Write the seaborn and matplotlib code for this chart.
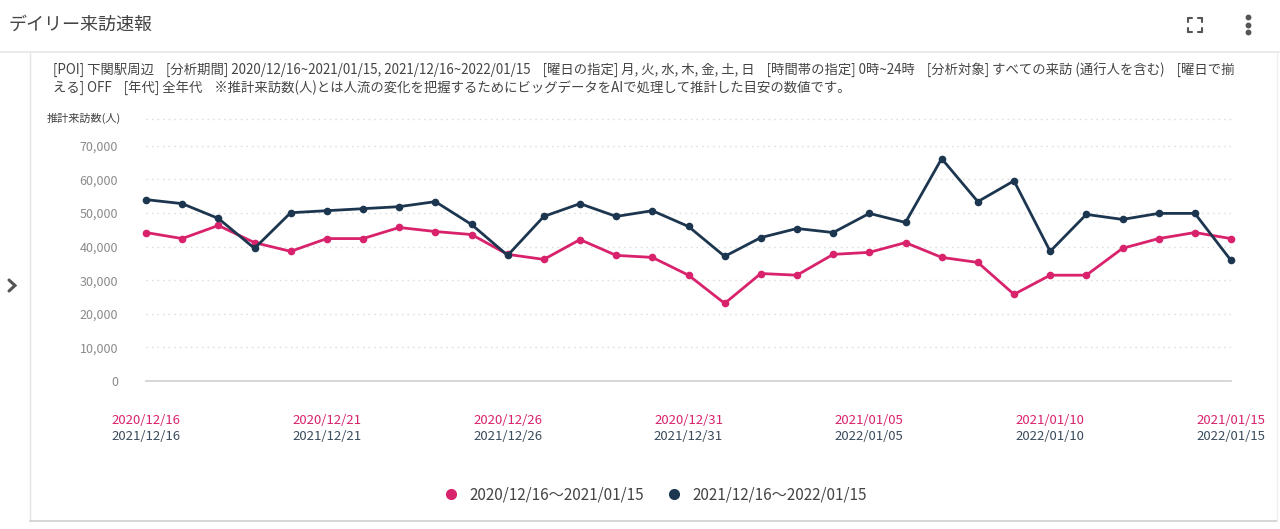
"""
Daily visit report - two period comparison line chart
"""

import matplotlib
matplotlib.use('Agg')
import matplotlib.pyplot as plt
from matplotlib.lines import Line2D
from matplotlib.transforms import blended_transform_factory
import pandas as pd
import seaborn as sns

# ---- data -------------------------------------------------------------
labels_2020 = ['2020/12/16', '2020/12/21', '2020/12/26', '2020/12/31',
               '2021/01/05', '2021/01/10', '2021/01/15']
labels_2021 = ['2021/12/16', '2021/12/21', '2021/12/26', '2021/12/31',
               '2022/01/05', '2022/01/10', '2022/01/15']
series_names = ['2020/12/16～2021/01/15', '2021/12/16～2022/01/15']

visits_2020 = [44200, 42400, 46300, 41200, 38600, 42400, 42400, 45700, 44500, 43600,
               37700, 36200, 42100, 37400, 36800, 31500, 23100, 32000, 31500, 37700,
               38300, 41200, 36800, 35300, 25800, 31500, 31500, 39500, 42400, 44200,
               42400]
visits_2021 = [54000, 52800, 48400, 39500, 50100, 50700, 51300, 51900, 53400, 46600,
               37400, 49000, 52800, 49000, 50700, 46000, 37100, 42700, 45400, 44200,
               49900, 47200, 66200, 53400, 59600, 38600, 49600, 48100, 49900, 49900,
               35900]
y_ticks = [0, 10000, 20000, 30000, 40000, 50000, 60000, 70000]

PINK = '#d8226c'
NAVY = '#1d3650'
W, H = 1280, 529


def fx(px):
    return px / W


def fy(py):
    return 1 - py / H


sns.set_theme(style='white')
plt.rcParams['font.family'] = ['Noto Sans CJK JP', 'DejaVu Sans']

fig = plt.figure(figsize=(12.8, 5.29), dpi=100)
fig.patch.set_facecolor('white')

# ---- card chrome ------------------------------------------------------
fig.text(fx(8), fy(25), 'デイリー来訪速報', fontsize=13, color='#444444', va='center')
fig.add_artist(Line2D([0, 1], [fy(52), fy(52)], color='#e6e6e6', lw=1.2))
fig.add_artist(Line2D([fx(30), fx(30)], [fy(53), fy(521)], color='#e3e3e3', lw=1))
fig.add_artist(Line2D([fx(30), fx(1277)], [fy(521), fy(521)], color='#cfcfcf', lw=1.2))
fig.add_artist(Line2D([fx(1277), fx(1277)], [fy(53), fy(521)], color='#eeeeee', lw=1))
# collapse chevron
fig.add_artist(Line2D([fx(9), fx(15), fx(9)], [fy(280), fy(285.5), fy(291)],
                      color='#555555', lw=2.2, solid_joinstyle='miter'))

# fullscreen icon: four corner brackets
cx, cy, s, a = 1195, 25, 7, 4
for dx in (-1, 1):
    for dy in (-1, 1):
        x0, y0 = cx + dx * s, cy + dy * s
        fig.add_artist(Line2D([fx(x0), fx(x0 - dx * a)], [fy(y0), fy(y0)], color='#555555', lw=1.5))
        fig.add_artist(Line2D([fx(x0), fx(x0)], [fy(y0), fy(y0 - dy * a)], color='#555555', lw=1.5))
# more (kebab) icon
for yy in (17, 24.5, 32):
    fig.add_artist(Line2D([fx(1248)], [fy(yy)], marker='o', markersize=3.2, color='#555555', lw=0))

info_1 = ('[POI] 下関駅周辺    [分析期間] 2020/12/16~2021/01/15, 2021/12/16~2022/01/15    '
          '[曜日の指定] 月, 火, 水, 木, 金, 土, 日    [時間帯の指定] 0時~24時    '
          '[分析対象] すべての来訪 (通行人を含む)    [曜日で揃')
info_2 = ('える] OFF    [年代] 全年代    ※推計来訪数(人)とは人流の変化を把握するためにビッグデータを'
          'AIで処理して推計した目安の数値です。')
fig.text(fx(53), fy(70), info_1, fontsize=9.6, color='#444444', va='center')
fig.text(fx(53), fy(88), info_2, fontsize=9.6, color='#444444', va='center')

# ---- chart ------------------------------------------------------------
n = len(visits_2020)
df = pd.DataFrame({
    'day': list(range(n)) * 2,
    'visits': visits_2020 + visits_2021,
    'period': [series_names[0]] * n + [series_names[1]] * n,
})

ax = fig.add_axes([fx(146), fy(381), fx(1231) - fx(146), fy(119) - fy(381)])
sns.lineplot(data=df, x='day', y='visits', hue='period', palette=[PINK, NAVY],
             marker='o', markersize=5.5, markeredgewidth=0, linewidth=2,
             legend=False, ax=ax, clip_on=False, zorder=3)

ax.set_xlim(0, n - 1)
ax.set_ylim(0, 78000)
ax.set_yticks(y_ticks)
ax.set_yticklabels([f'{v:,}' for v in y_ticks], fontsize=9, color='#8a8a8a')
ax.tick_params(axis='y', length=0, pad=20)
for v in y_ticks[1:]:
    ax.axhline(v, color='#d9d9d9', lw=1, ls=(0, (1, 3)), zorder=1)
ax.axhline(78000, color='#d9d9d9', lw=1, ls=(0, (1, 3)), zorder=1, clip_on=False)

for side in ('top', 'right', 'left'):
    ax.spines[side].set_visible(False)
ax.spines['bottom'].set_color('#d0d0d0')
ax.spines['bottom'].set_linewidth(1.2)

tick_pos = list(range(0, n, 5))
ax.set_xticks(tick_pos)
ax.set_xticklabels([''] * len(tick_pos))
ax.tick_params(axis='x', length=5, width=1, color='#d0d0d0', direction='out')
ax.set_xlabel('')
ax.set_ylabel('')

trans = blended_transform_factory(ax.transData, fig.transFigure)
for p, l1, l2 in zip(tick_pos, labels_2020, labels_2021):
    ax.text(p, fy(420), l1, transform=trans, ha='center', va='center',
            fontsize=9.5, color=PINK)
    ax.text(p, fy(437), l2, transform=trans, ha='center', va='center',
            fontsize=9.5, color='#3a4b5c')

fig.text(fx(47), fy(118), '推計来訪数(人)', fontsize=8, color='#444444', va='center')

# ---- legend -----------------------------------------------------------
handles = [Line2D([], [], marker='o', color=c, lw=0, markersize=7) for c in (PINK, NAVY)]
fig.legend(handles, series_names, loc='center', bbox_to_anchor=(0.509, fy(495)),
           ncol=2, frameon=False, fontsize=11, handletextpad=0.2, columnspacing=1.0,
           labelcolor='#444444')

plt.savefig('out.png', dpi=100, facecolor='white')
plt.close()
